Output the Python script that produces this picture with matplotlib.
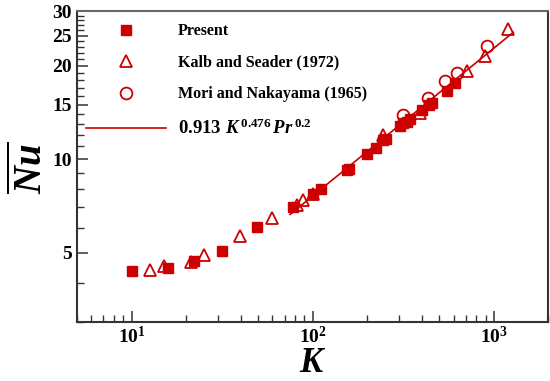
import numpy as np
import matplotlib
matplotlib.use("Agg")
import matplotlib.pyplot as plt
from matplotlib.ticker import FixedLocator, NullFormatter, LogLocator, LogFormatterSciNotation, FixedFormatter

plt.rcParams['font.family'] = ['Liberation Serif', 'DejaVu Serif']
plt.rcParams['font.weight'] = 'bold'
plt.rcParams['mathtext.fontset'] = 'custom'
plt.rcParams['mathtext.rm'] = 'Liberation Serif:bold'
plt.rcParams['mathtext.bf'] = 'Liberation Serif:bold'
plt.rcParams['mathtext.it'] = 'Liberation Serif:italic:bold'

# ---- data ----
present_K = [10, 15.9, 22.1, 31.5, 49.5, 78, 100, 111, 155, 158, 199, 223, 245, 254,
             304, 317, 330, 345, 400, 440, 454, 550, 611]
present_Nu = [4.38, 4.45, 4.69, 5.08, 6.03, 7.0, 7.70, 7.99, 9.23, 9.3, 10.4, 10.9, 11.5, 11.6,
              12.8, 13.1, 13.2, 13.5, 14.4, 14.9, 15.2, 16.6, 17.6]

kalb_K = [12.6, 15.1, 21.3, 25.0, 39.8, 59.8, 81.6, 88.7, 100, 245, 392, 710, 889, 1200]
kalb_Nu = [4.40, 4.52, 4.66, 4.93, 5.64, 6.49, 7.12, 7.38, 7.75, 12.0, 14.1, 19.2, 21.5, 26.2]

mori_K = [317, 435, 540, 625, 914]
mori_Nu = [13.9, 15.7, 17.8, 18.9, 23.1]

# correlation 0.913 K^0.476 Pr^0.2
corr_coef = 0.913
corr_exp = 0.476
Pr = 0.7
corr_K_range = [75, 1280]

x_ticks = [10, 100, 1000]
y_ticks = [5, 10, 15, 20, 25, 30]
y_tick_labels = ['5', '10', '15', '20', '25', '30']
y_minor = [3, 4, 6, 7, 8, 9, 11, 12, 13, 14, 16, 17, 18, 19, 21, 22, 23, 24, 26, 27, 28, 29]

red = '#cc0000'

fig = plt.figure(figsize=(5.5, 3.81), dpi=100)
ax = fig.add_axes([0.140, 0.156, 0.857, 0.815])

Kline = np.array(corr_K_range, dtype=float)
Nline = corr_coef * Kline**corr_exp * Pr**0.2

ax.plot(present_K, present_Nu, linestyle='none', marker='s', ms=7.2, color=red,
        mec=red, label='Present', zorder=3)
ax.plot(kalb_K, kalb_Nu, linestyle='none', marker='^', ms=9, mfc='none', mec=red,
        mew=1.3, label='Kalb and Seader (1972)', zorder=4)
ax.plot(mori_K, mori_Nu, linestyle='none', marker='o', ms=8.5, mfc='none', mec=red,
        mew=1.3, label='Mori and Nakayama (1965)', zorder=4)
ax.plot(Kline, Nline, color=red, lw=1.2,
        label=r'$\mathbf{0.913}\ \mathit{K}^{\,\mathbf{0.476}}\,\mathit{Pr}^{\,\mathbf{0.2}}$', zorder=2)

ax.set_xscale('log')
ax.set_yscale('log')
ax.set_xlim(5, 2000)
ax.set_ylim(3, 30)

ax.xaxis.set_major_locator(FixedLocator(x_ticks))
ax.xaxis.set_major_formatter(LogFormatterSciNotation())
ax.xaxis.set_minor_locator(LogLocator(base=10, subs=np.arange(2, 10)))
ax.xaxis.set_minor_formatter(NullFormatter())

ax.yaxis.set_major_locator(FixedLocator(y_ticks))
ax.yaxis.set_major_formatter(FixedFormatter(y_tick_labels))
ax.yaxis.set_minor_locator(FixedLocator(y_minor))
ax.yaxis.set_minor_formatter(NullFormatter())

ax.tick_params(which='major', direction='in', length=8, width=1.1, labelsize=14,
               top=False, right=False, pad=4, color='#333333')
ax.tick_params(axis='x', which='major', pad=3)
ax.tick_params(which='minor', direction='in', length=5, width=1.0, top=False, right=False,
               color='#333333')

for s in ax.spines.values():
    s.set_linewidth(1.5)
    s.set_color('#333333')
ax.spines['top'].set_color('#666666')

# axis titles placed explicitly
fig.text(312.5 / 550, 1 - 380 / 381, r'$\mathit{K}$', fontsize=25,
         ha='center', va='bottom')
fig.text(32 / 550, 1 - 168 / 381, r'$\overline{\mathit{Nu}}$', fontsize=28,
         ha='center', va='center', rotation=90)

leg = ax.legend(loc='upper left', bbox_to_anchor=(-0.005, 0.997), frameon=False,
                fontsize=11.5, handlelength=5.0, handletextpad=0.75, labelspacing=0.98,
                borderaxespad=0.3, numpoints=1)
leg.get_texts()[3].set_fontsize(13.5)

fig.savefig('out.png', dpi=100)
